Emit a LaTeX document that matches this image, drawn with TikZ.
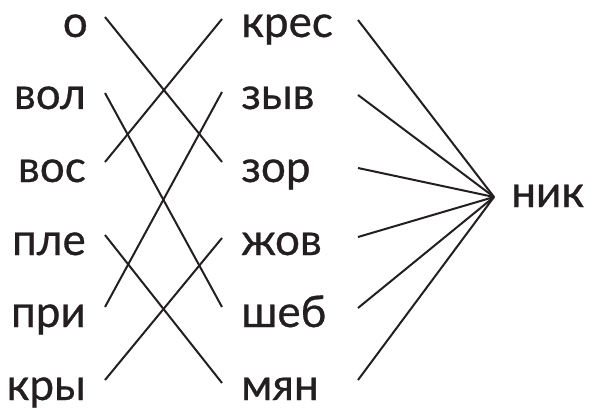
\documentclass[tikz,border=0pt]{standalone}
\usepackage{fontspec}
\setmainfont{Lato}[FakeBold=0.6]
\definecolor{ink}{HTML}{231F20}
\begin{document}
\begin{tikzpicture}[x=1pt,y=-1pt,
  word/.style={inner sep=0pt, font=\fontsize{44}{50}\selectfont, text=ink},
  lw/.style={word, anchor=base east},
  rw/.style={word, anchor=base west},
  link/.style={draw=ink, line width=2pt}]
\useasboundingbox (0,0) rectangle (594,409);
% left column
\node[lw] (o)   at (88,37)  {о};
\node[lw] (vol) at (86,109)  {вол};
\node[lw] (vos) at (86,182) {вос};
\node[lw] (ple) at (86,255) {пле};
\node[lw] (pri) at (86,327) {при};
\node[lw] (kry) at (86,400) {кры};
% middle column
\node[rw] (kres) at (241,37)  {крес};
\node[rw] (zyv)  at (241,109)  {зыв};
\node[rw] (zor)  at (241,182) {зор};
\node[rw] (zhov) at (241,255) {жов};
\node[rw] (sheb) at (241,327) {шеб};
\node[rw] (myan) at (241,400) {мян};
% right
\node[rw] (nik) at (511,207) {ник};
% line ends
\coordinate (lo)   at (105,17);
\coordinate (lvol) at (105,93);
\coordinate (lvos) at (105,162);
\coordinate (lple) at (105,235);
\coordinate (lpri) at (105,307);
\coordinate (lkry) at (105,380);
\coordinate (mkres) at (222,19);
\coordinate (mzyv)  at (222,92);
\coordinate (mzor)  at (222,162);
\coordinate (mzhov) at (222,238);
\coordinate (msheb) at (222,307);
\coordinate (mmyan) at (222,383);
\coordinate (r1) at (358,20);
\coordinate (r2) at (358,95);
\coordinate (r3) at (358,168);
\coordinate (r4) at (358,237);
\coordinate (r5) at (358,308);
\coordinate (r6) at (358,380);
\coordinate (nk) at (494,197);
% connectors
\draw[link] (lo) -- (mzor);
\draw[link] (lvos) -- (mkres);
\draw[link] (lvol) -- (msheb);
\draw[link] (lpri) -- (mzyv);
\draw[link] (lple) -- (mmyan);
\draw[link] (lkry) -- (mzhov);
\foreach \r in {r1,r2,r3,r4,r5,r6} \draw[link] (\r) -- (nk);
\end{tikzpicture}
\end{document}
